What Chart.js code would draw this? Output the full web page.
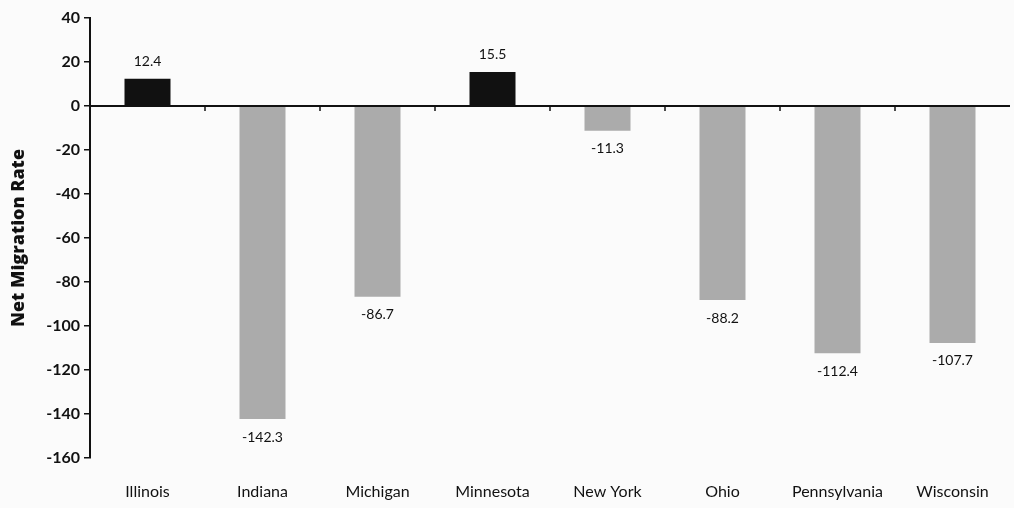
<!DOCTYPE html>
<html>
<head>
<meta charset="utf-8">
<script src="https://cdn.jsdelivr.net/npm/chart.js@4"></script>
<style>
  html, body { margin: 0; padding: 0; background: #fbfbfb; }
  #wrap { width: 1014px; height: 508px; }
</style>
</head>
<body>
<div id="wrap"><canvas id="c" width="1014" height="508"></canvas></div>
<script>
// data
const states = ['Illinois', 'Indiana', 'Michigan', 'Minnesota', 'New York', 'Ohio', 'Pennsylvania', 'Wisconsin'];
const rates = [12.4, -142.3, -86.7, 15.5, -11.3, -88.2, -112.4, -107.7];
const yTicks = [40, 20, 0, -20, -40, -60, -80, -100, -120, -140, -160];

const FONT = 'Lato, "Open Sans", sans-serif';

//--- value labels + zero line ticks
const migrationLabels = {
  id: 'migrationLabels',
  afterDatasetsDraw(chart) {
    const { ctx } = chart;
    const x = chart.scales.x;
    const y = chart.scales.y;
    const y0 = y.getPixelForValue(0);

    ctx.save();
    // zero line
    ctx.strokeStyle = '#111';
    ctx.lineWidth = 2;
    ctx.beginPath();
    ctx.moveTo(chart.chartArea.left, y0);
    ctx.lineTo(chart.chartArea.right, y0);
    ctx.stroke();

    // little tick marks between categories
    ctx.lineWidth = 1.5;
    for (let i = 1; i < states.length; i++) {
      const px = (x.getPixelForValue(i - 1) + x.getPixelForValue(i)) / 2;
      ctx.beginPath();
      ctx.moveTo(px, y0);
      ctx.lineTo(px, y0 + 5);
      ctx.stroke();
    }

    // labels
    ctx.font = '14px ' + FONT;
    ctx.fillStyle = '#111';
    ctx.textAlign = 'center';
    ctx.textBaseline = 'middle';
    chart.getDatasetMeta(0).data.forEach((bar, i) => {
      const v = rates[i];
      const ty = v >= 0 ? bar.y - 17 : bar.y + 18;
      ctx.fillText(v.toFixed(1), bar.x, ty);
    });
    ctx.restore();
  }
};

new Chart(document.getElementById('c'), {
  type: 'bar',
  data: {
    labels: states,
    datasets: [{
      data: rates,
      backgroundColor: rates.map(v => v >= 0 ? '#111111' : '#ababab'),
      borderWidth: 0,
      barPercentage: 0.8,
      categoryPercentage: 0.5
    }]
  },
  options: {
    responsive: false,
    animation: false,
    layout: {
      padding: { top: 18, right: 4, bottom: 0, left: 4 }
    },
    scales: {
      x: {
        afterFit(scale) {
          scale.height = 50;
        },
        grid: { display: false, drawTicks: false },
        border: { display: false },
        ticks: {
          color: '#111',
          font: { family: FONT, size: 16 },
          padding: 24,
          maxRotation: 0,
          autoSkip: false
        }
      },
      y: {
        min: -160,
        max: 40,
        afterBuildTicks(scale) {
          scale.ticks = yTicks.map(v => ({ value: v }));
        },
        afterFit(scale) {
          scale.width = 86;
        },
        grid: {
          display: true,
          drawOnChartArea: false,
          drawTicks: true,
          tickLength: 6,
          color: '#111',
          lineWidth: 1.5
        },
        border: { display: true, color: '#111', width: 2 },
        ticks: {
          color: '#111',
          font: { family: FONT, size: 16, weight: 'bold' },
          padding: 4
        },
        title: {
          display: true,
          text: 'Net Migration Rate',
          color: '#111',
          font: { family: '"Open Sans", sans-serif', size: 18, weight: 800 },
          padding: { top: 4, bottom: 2 }
        }
      }
    },
    plugins: {
      legend: { display: false },
      tooltip: { enabled: false }
    }
  },
  plugins: [migrationLabels]
});
</script>
</body>
</html>
